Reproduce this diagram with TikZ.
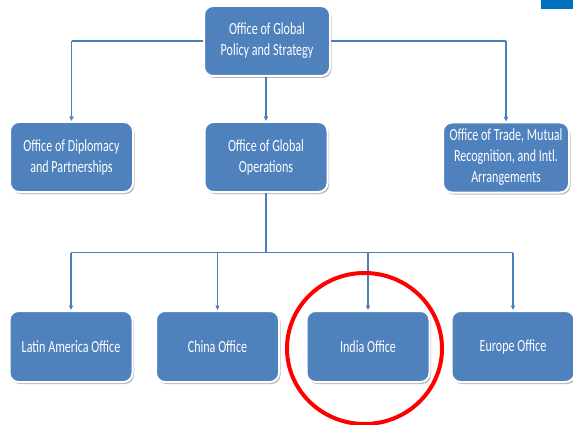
\documentclass[tikz,border=0pt]{standalone}
\usepackage{fontspec}
\setmainfont{Carlito}[FakeStretch=0.71]
\usetikzlibrary{arrows.meta,shadows,backgrounds}
\definecolor{boxblue}{HTML}{4F81BD}
\definecolor{linkblue}{HTML}{4A7EBB}
\definecolor{cornerblue}{HTML}{0070C0}
\tikzset{
  office/.style={rectangle, rounded corners=9pt, fill=boxblue, draw=white,
    line width=2pt, minimum width=123pt, minimum height=70pt,
    text=white, align=center, inner sep=2pt,
    font=\fontsize{17}{21}\selectfont,
    drop shadow={shadow xshift=1.5pt, shadow yshift=-2pt, opacity=0.4, fill=black!70}},
  bus/.style={draw=linkblue, line width=1.3pt},
  feed/.style={draw=linkblue, line width=1.3pt, -{Triangle[length=4.5pt,width=4pt]}},
  trunk/.style={draw=linkblue, line width=2.2pt},
  highlight/.style={draw=red, line width=4pt}
}
\begin{document}
\begin{tikzpicture}[x=1pt, y=-1pt]
  \useasboundingbox (0,0) rectangle (573,425);

  % corner tab
  \fill[cornerblue] (541,0) rectangle (573,9);

  % top level
  \node[office, minimum width=126pt] (strategy) at (267,41) {Office of Global\\Policy and Strategy};

  % second level
  \node[office] (diplomacy) at (71.5,157) {Office of Diplomacy\\and Partnerships};
  \node[office] (operations) at (266,157) {Office of Global\\Operations};
  \node[office, minimum width=126pt] (trade) at (506,157.5) {Office of Trade, Mutual\\Recognition, and Intl.\\Arrangements};

  % regional offices
  \node[office, minimum height=71pt] (latam) at (71,346.5) {Latin America Office};
  \node[office, minimum height=71pt] (china) at (217.5,346.5) {China Office};
  \node[office, minimum height=71pt] (india) at (368,346.5) {India Office};
  \node[office, minimum height=71pt] (europe) at (513,346.5) {Europe Office};

  \coordinate (hub) at (266,252.5);

  \begin{scope}[on background layer]
    % upper distribution line
    \draw[bus] (diplomacy |- strategy) -- (trade |- strategy);
    \draw[feed] (diplomacy |- strategy) -- (diplomacy.north);
    \draw[feed] (trade |- strategy) -- (trade.north);
    \draw[feed] (operations |- strategy.south) -- (operations.north);
    % lower distribution line
    \draw[trunk] (operations.south) -- (hub);
    \draw[bus] (latam |- hub) -- (europe |- hub);
    \draw[feed] (latam |- hub) -- (latam.north);
    \draw[feed] (china |- hub) -- (china.north);
    \draw[feed] (india |- hub) -- (india.north);
    \draw[feed] (europe |- hub) -- (europe.north);
  \end{scope}

  % highlight ring
  \draw[highlight] (364.5,348.5) ellipse [x radius=77.5, y radius=75.5];
\end{tikzpicture}
\end{document}
